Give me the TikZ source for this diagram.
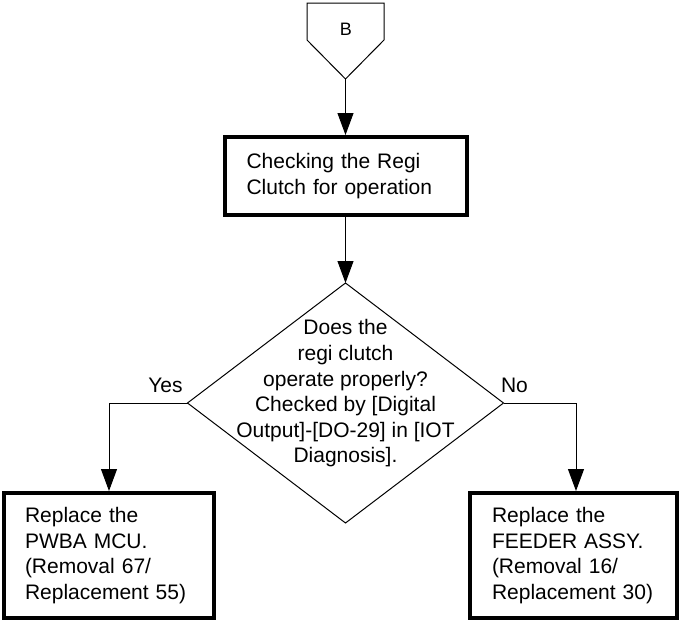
\documentclass[tikz,border=0pt]{standalone}
\usepackage{fontspec}
\setmainfont{Liberation Sans}
\usetikzlibrary{arrows.meta,shapes.geometric}
\begin{document}
\begin{tikzpicture}[x=1pt,y=-1pt,
  txt/.style={font=\fontsize{21}{25.6}\selectfont},
  boxnode/.style={draw,line width=4pt,inner sep=0pt,align=left,txt},
  conn/.style={line width=1pt,-{Triangle[length=22pt,width=16pt]}},
  thin/.style={line width=1pt}]
\useasboundingbox (0,0) rectangle (681,621);
% off-page connector
\draw[thin] (307,3) -- (384,3) -- (384,40) -- (345.5,79) -- (307,40) -- cycle;
\coordinate (Btip) at (345.5,79);
\node[font=\fontsize{18}{21}\selectfont] (Blabel) at (345.8,29) {B};
% first box
\node[boxnode,minimum width=242pt,minimum height=78pt,text width=198pt] (check) at (345.5,176)
  {Checking the Regi\\Clutch for operation};
% decision
\node[draw,thin,shape=diamond,minimum width=316pt,minimum height=240pt,inner sep=0pt,outer sep=0pt] (dec) at (345.5,403) {};
\node[txt,align=center] (dectext) at (345.5,393.5)
  {Does the\\regi clutch\\operate properly?\\Checked by [Digital\\Output]-[DO-29] in [IOT\\Diagnosis].};
% result boxes
\node[boxnode,minimum width=210pt,minimum height=125pt,text width=168pt] (lbox) at (109,555.5)
  {Replace the\\PWBA MCU.\\(Removal 67/\\Replacement 55)};
\node[boxnode,minimum width=207pt,minimum height=125pt,text width=163pt] (rbox) at (573.5,555.5)
  {Replace the\\FEEDER ASSY.\\(Removal 16/\\Replacement 30)};
% connectors
\draw[conn] (Btip) -- (check.north);
\draw[conn] (check.south) -- (dec.north);
\draw[conn] (dec.west) -| (lbox.north);
\coordinate (rtop) at ([xshift=2.5pt]rbox.north);
\draw[conn] (dec.east) -| (rtop);
% labels
\node[txt,anchor=base] (yes) at (165.5,392) {Yes};
\node[txt,anchor=base] (no) at (514.5,392) {No};
\end{tikzpicture}
\end{document}
